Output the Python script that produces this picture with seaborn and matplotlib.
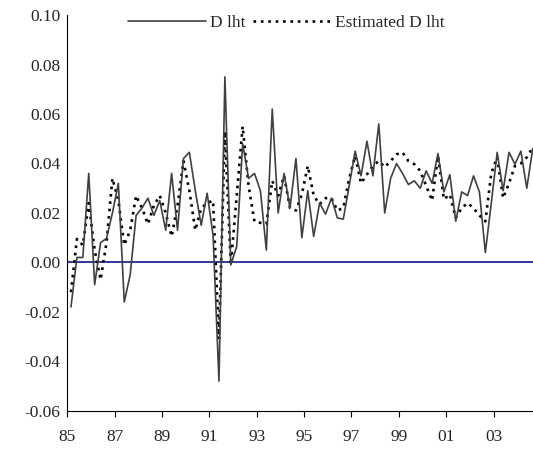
import numpy as np
import pandas as pd
import seaborn as sns
import matplotlib.pyplot as plt

# quarterly data, 1985Q1 - 2004Q3
d_lht = [-0.018, 0.002, 0.002, 0.036, -0.009, 0.008, 0.0097, 0.020,
         0.032, -0.016, -0.005, 0.019, 0.022, 0.026, 0.019, 0.025,
         0.013, 0.036, 0.013, 0.042, 0.0445, 0.029, 0.015, 0.028,
         0.011, -0.048, 0.075, -0.001, 0.0065, 0.048, 0.034, 0.036,
         0.029, 0.005, 0.062, 0.020, 0.036, 0.022, 0.042, 0.010,
         0.029, 0.0105, 0.024, 0.0195, 0.026, 0.018, 0.0175, 0.031,
         0.045, 0.035, 0.049, 0.035, 0.056, 0.020, 0.034, 0.040,
         0.036, 0.0315, 0.033, 0.030, 0.037, 0.032, 0.044, 0.0285,
         0.0355, 0.0167, 0.0285, 0.027, 0.035, 0.0285, 0.004, 0.024,
         0.0445, 0.029, 0.0445, 0.0397, 0.045, 0.030, 0.046]

est_d_lht = [-0.012, 0.0095, 0.007, 0.024, 0.005, -0.007, 0.008, 0.034,
             0.025, 0.007, 0.013, 0.027, 0.022, 0.0155, 0.023, 0.027,
             0.020, 0.0105, 0.023, 0.041, 0.029, 0.013, 0.022, 0.024,
             0.025, -0.031, 0.053, -0.001, 0.027, 0.055, 0.031, 0.0165,
             0.016, 0.0155, 0.033, 0.027, 0.035, 0.022, 0.021, 0.0275,
             0.039, 0.027, 0.0235, 0.026, 0.026, 0.021, 0.022, 0.034,
             0.043, 0.032, 0.0356, 0.039, 0.041, 0.0385, 0.041, 0.0437,
             0.0445, 0.041, 0.0397, 0.037, 0.031, 0.025, 0.043, 0.0255,
             0.0275, 0.018, 0.022, 0.024, 0.022, 0.019, 0.0166, 0.036,
             0.0425, 0.026, 0.032, 0.039, 0.040, 0.0425, 0.0465]

tick_years = [85, 87, 89, 91, 93, 95, 97, 99, 1, 3]
tick_labels = ["85", "87", "89", "91", "93", "95", "97", "99", "01", "03"]
y_ticks = [-0.06, -0.04, -0.02, 0.00, 0.02, 0.04, 0.06, 0.08, 0.10]

quarter = np.arange(len(d_lht))
df = pd.DataFrame({"q": quarter, "D lht": d_lht, "Estimated D lht": est_d_lht})

sns.set_style("white")
plt.rcParams["font.family"] = ["Liberation Serif", "DejaVu Serif"]

fig = plt.figure(figsize=(5.33, 4.57), dpi=100)
ax = fig.add_axes([0.1263, 0.101, 0.8737, 0.866])

ax.axhline(0, color="#000080", lw=1.1, zorder=1)
sns.lineplot(data=df, x="q", y="D lht", ax=ax, color="#404040", lw=1.2,
             label="D lht", zorder=3)
sns.lineplot(data=df, x="q", y="Estimated D lht", ax=ax, color="black", lw=1.9,
             linestyle=(0, (1, 1.8)), label="Estimated D lht", zorder=2)

# year ticks sit on the boundary before each year's first quarter
tick_pos = [((y if y > 50 else y + 100) - 85) * 4 - 0.62 for y in tick_years]
ax.set_xticks(tick_pos)
ax.set_xticklabels(tick_labels)
ax.set_xlim(-0.62, 78.05)
ax.set_ylim(-0.06, 0.10)
ax.set_yticks(y_ticks)
ax.set_yticklabels([f"{v:.2f}" for v in y_ticks])
ax.set_xlabel("")
ax.set_ylabel("")

for s in ["top", "right"]:
    ax.spines[s].set_visible(False)
for s in ["left", "bottom"]:
    ax.spines[s].set_color("black")
    ax.spines[s].set_linewidth(0.8)
ax.tick_params(axis="x", direction="out", length=4, width=0.8, color="black",
               labelsize=12.5, pad=9, bottom=True)
ax.tick_params(axis="y", length=0, labelsize=12.5, pad=5)

ax.legend(loc="upper center", bbox_to_anchor=(0.47, 1.04), ncol=2, frameon=False,
          fontsize=12.5, handlelength=4.5, columnspacing=0.4, handletextpad=0.25)

fig.savefig("out.png", dpi=100)
